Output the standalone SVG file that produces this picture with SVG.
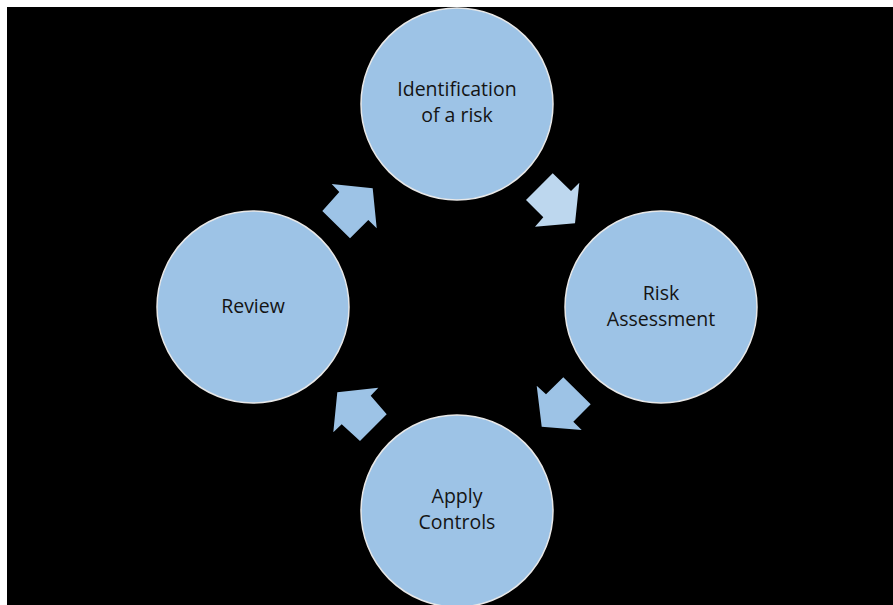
<svg xmlns="http://www.w3.org/2000/svg" width="893" height="605" viewBox="0 0 893 605">
<style>
.node circle{fill:#9DC3E6;stroke:#E8E8E8;stroke-width:1.5}
.node text{font-family:"Open Sans","Noto Sans",sans-serif;font-size:19.5px;fill:#141414;text-anchor:middle}
.arrow{fill:#9DC3E6}
.arrow.light{fill:#BDD7EE}
</style>
<rect x="0" y="0" width="893" height="605" fill="#FFFFFF"/>
<rect x="7" y="7" width="886" height="598" fill="#000000"/>
<g id="connectors">
<polygon class="arrow" points="372.7,188.3 331.7,184 339.3,192 322.3,211 350,238.3 368.3,220 376.7,228.3"/>
<polygon class="arrow light" points="552.7,173.3 571,191 579.3,182.7 575,223.3 535,226.7 543.3,217.3 526,200"/>
<polygon class="arrow" points="536.7,385.7 546,394.3 563.3,377.3 590.7,404.3 573.3,421.7 581.7,430 541.7,426.7"/>
<polygon class="arrow" points="337.3,392.3 378.3,387.7 370.7,395.7 386.7,414.3 360,441 341.7,424.3 333.3,432.3"/>
</g>
<g id="node-identification" class="node">
<circle cx="457" cy="104" r="96"/>
<text x="457" y="96">Identification</text>
<text x="457" y="122">of a risk</text>
</g>
<g id="node-risk-assessment" class="node">
<circle cx="661" cy="307" r="96"/>
<text x="661" y="300">Risk</text>
<text x="661" y="326">Assessment</text>
</g>
<g id="node-apply-controls" class="node">
<circle cx="457" cy="511" r="96"/>
<text x="457" y="503">Apply</text>
<text x="457" y="529">Controls</text>
</g>
<g id="node-review" class="node">
<circle cx="253" cy="307" r="96"/>
<text x="253" y="313">Review</text>
</g>
</svg>
